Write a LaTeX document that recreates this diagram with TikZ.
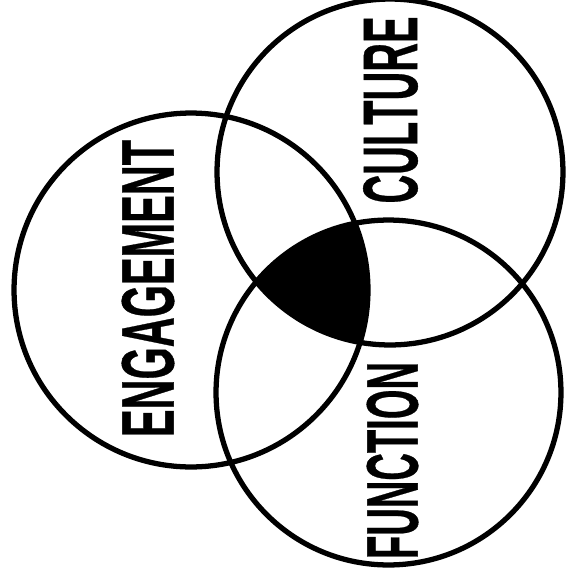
\documentclass[tikz,border=0pt]{standalone}
\usepackage{fontspec}
\usepackage{graphicx}
\setmainfont{Liberation Sans}
\newfontfamily\labelfont[FakeBold=0.6]{Liberation Sans}
\newlength\pxunit
\setlength\pxunit{0.02cm}

\begin{document}
\begin{tikzpicture}[
    x=0.02cm, y=-0.02cm,
    ring/.style={line width=3pt},
    word/.style={rotate=90, inner sep=0pt, font=\labelfont\bfseries},
]
\useasboundingbox (0,0) rectangle (566,586);

% circle centres
\coordinate (eng) at (191,290);
\coordinate (cul) at (390,172);
\coordinate (fun) at (388.5,392.5);

% part shared by all three
\begin{scope}
  \clip (eng) circle[radius=3.54cm];
  \clip (cul) circle[radius=3.46cm];
  \fill (fun) circle[radius=3.45cm];
\end{scope}

% circles
\draw[ring] (eng) circle[radius=3.54cm];
\draw[ring] (cul) circle[radius=3.46cm];
\draw[ring] (fun) circle[radius=3.45cm];

% labels
\node[word] (englabel) at (148,288.5) {\resizebox{297\pxunit}{52\pxunit}{ENGAGEMENT}};
\node[word] (cullabel) at (390.5,110) {\resizebox{187\pxunit}{54\pxunit}{CULTURE}};
\node[word] (funlabel) at (392.5,460.5) {\resizebox{197\pxunit}{51\pxunit}{FUNCTION}};

\end{tikzpicture}
\end{document}
